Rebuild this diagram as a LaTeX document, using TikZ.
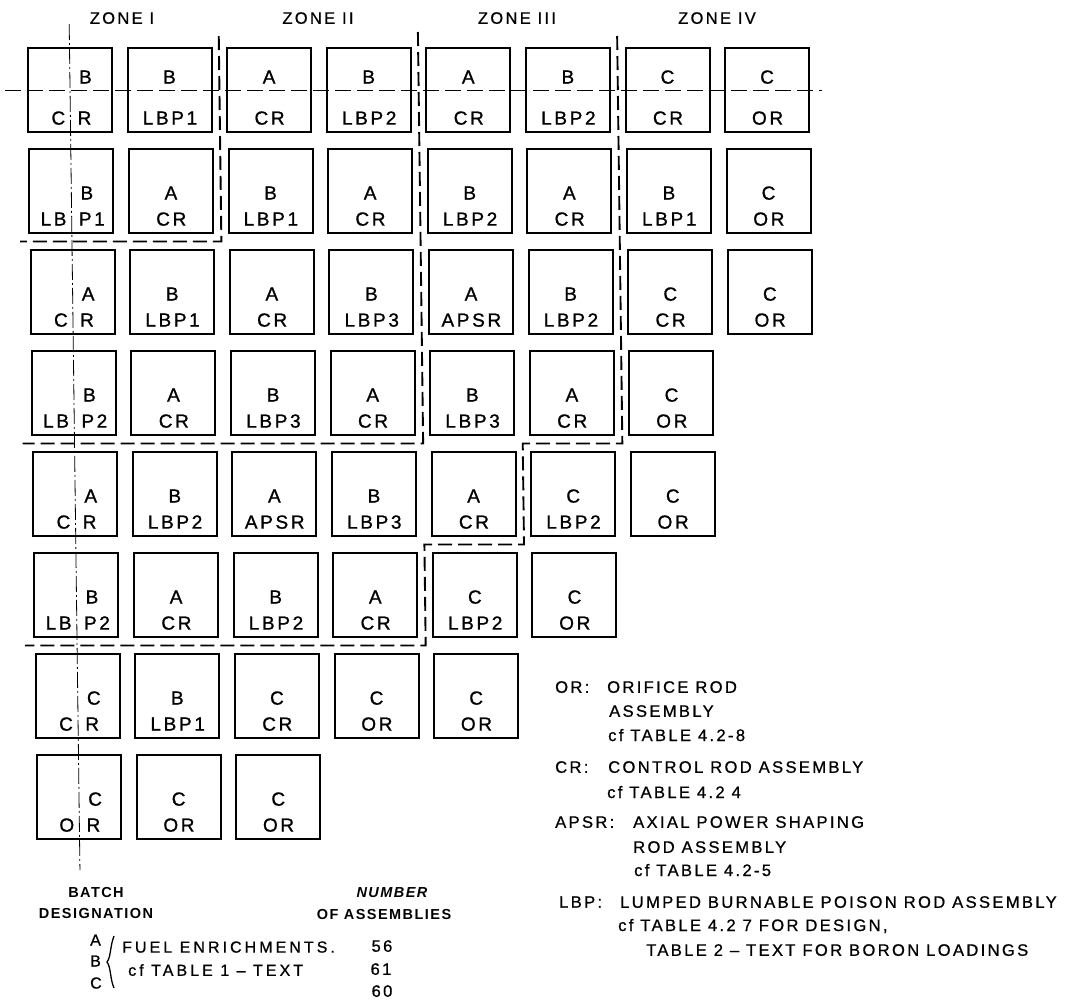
\documentclass[tikz,border=0pt]{standalone}
\usepackage{fontspec}
\setmainfont{Liberation Sans}
\newfontfamily\boxfont{Liberation Sans}[LetterSpace=14,FakeBold=1]
\newfontfamily\legfont{Liberation Sans}[LetterSpace=14,FakeBold=0.8]
\newfontfamily\widefont{Liberation Sans}[LetterSpace=19,FakeBold=0.8]
\newfontfamily\headfont{Liberation Sans}[LetterSpace=10]
\usetikzlibrary{calc}

\tikzset{
  fuelbox/.style={draw,line width=2pt,minimum width=84pt,minimum height=84pt,inner sep=0pt},
  boxtext/.style={inner sep=0pt,text depth=0pt,font=\boxfont\fontsize{19}{19}\selectfont},
  zonelabel/.style={inner sep=0pt,text depth=0pt,font=\legfont\fontsize{16.5}{16.5}\selectfont},
  zoneline/.style={line width=1.9pt,dash pattern=on 14pt off 6pt},
  axisline/.style={line width=0.8pt,dash pattern=on 16pt off 3pt on 2pt off 3pt},
  legtext/.style={anchor=west,inner sep=0pt,text depth=0pt,font=\legfont\fontsize{16.6}{16.6}\selectfont},
  batchtext/.style={anchor=west,inner sep=0pt,text depth=0pt,font=\widefont\fontsize{16}{16}\selectfont},
  headtext/.style={inner sep=0pt,text depth=0pt,font=\headfont\bfseries\fontsize{14.5}{14.5}\selectfont}
}

\begin{document}
\begin{tikzpicture}[x=1pt,y=-1pt]
  \useasboundingbox (0,0) rectangle (1066,1002);
  % zone headings
  \node[zonelabel] (zone1) at (122,18) {ZONE I};
  \node[zonelabel] (zone2) at (318,18) {ZONE II};
  \node[zonelabel] (zone3) at (517,18) {ZONE III};
  \node[zonelabel] (zone4) at (717,18) {ZONE IV};

  % the scan leans a little: lower rows sit further right
  \begin{scope}[xslant=-0.0127]
    % first column, split by the vertical axis
    \foreach \r/\t/\bl/\br in {0/B/C/R,1/B/LB/P1,2/A/C/R,3/B/LB/P2,
                               4/A/C/R,5/B/LB/P2,6/C/C/R,7/C/O/R}{
      \pgfmathsetmacro\cy{90+101*\r}
      \ifnum\r=0 \def\dt{13}\else\def\dt{-2}\fi
      \node[fuelbox] (b\r0) at (68.9,\cy) {};
      \node[boxtext,anchor=west] (t\r0) at ([xshift=9pt,yshift=\dt pt]b\r0.center) {\t};
      \node[boxtext,anchor=east] (l\r0) at ([xshift=-5pt,yshift=-28pt]b\r0.center) {\bl};
      \node[boxtext,anchor=west] (r\r0) at ([xshift=7pt,yshift=-28pt]b\r0.center) {\br};
    }
    % remaining assemblies: row/column/batch/insert
    \foreach \r/\c/\t/\b in {
        0/1/B/LBP1,0/2/A/CR,0/3/B/LBP2,0/4/A/CR,0/5/B/LBP2,0/6/C/CR,0/7/C/OR,
        1/1/A/CR,1/2/B/LBP1,1/3/A/CR,1/4/B/LBP2,1/5/A/CR,1/6/B/LBP1,1/7/C/OR,
        2/1/B/LBP1,2/2/A/CR,2/3/B/LBP3,2/4/A/APSR,2/5/B/LBP2,2/6/C/CR,2/7/C/OR,
        3/1/A/CR,3/2/B/LBP3,3/3/A/CR,3/4/B/LBP3,3/5/A/CR,3/6/C/OR,
        4/1/B/LBP2,4/2/A/APSR,4/3/B/LBP3,4/4/A/CR,4/5/C/LBP2,4/6/C/OR,
        5/1/A/CR,5/2/B/LBP2,5/3/A/CR,5/4/C/LBP2,5/5/C/OR,
        6/1/B/LBP1,6/2/C/CR,6/3/C/OR,6/4/C/OR,
        7/1/C/OR,7/2/C/OR}{
      \pgfmathsetmacro\cx{68.9+99.6*\c}
      \pgfmathsetmacro\cy{90+101*\r}
      \ifnum\r=0 \def\dt{13}\else\def\dt{-2}\fi
      \node[fuelbox] (b\r\c) at (\cx,\cy) {};
      \node[boxtext] (t\r\c) at ([yshift=\dt pt]b\r\c.center) {\t};
      \node[boxtext] (u\r\c) at ([yshift=-28pt]b\r\c.center) {\b};
    }
    % zone boundaries
    \draw[zoneline] (218.3,36) -- (218.3,241.5) -- (17,241.5);
    \draw[zoneline] (417.5,32) -- (417.5,443.5) -- (17,443.5);
    \draw[zoneline] (616.7,36) -- (616.7,443.5) -- (517.1,443.5) -- (517.1,544.5)
      -- (417.5,544.5) -- (417.5,645.5) -- (17,645.5);
    % symmetry axes
    \draw[axisline] (68.9,24) -- (68.9,870);
    \draw[line width=1pt,dash pattern=on 16pt off 6pt] (4,90) -- (821,90);
  \end{scope}

  % legend
  \node[legtext] (orkey)  at (555,687) {OR:};
  \node[legtext] (ortx1)  at (607,687) {ORIFICE ROD};
  \node[legtext] (ortx2)  at (609,711) {ASSEMBLY};
  \node[legtext] (ortx3)  at (608,735) {cf TABLE 4.2-8};
  \node[legtext] (crkey)  at (555,767) {CR:};
  \node[legtext] (crtx1)  at (608,767) {CONTROL ROD ASSEMBLY};
  \node[legtext] (crtx2)  at (607,792) {cf TABLE 4.2 4};
  \node[legtext] (apkey)  at (555,822) {APSR:};
  \node[legtext] (aptx1)  at (633,822) {AXIAL POWER SHAPING};
  \node[legtext] (aptx2)  at (633,847) {ROD ASSEMBLY};
  \node[legtext] (aptx3)  at (634,870) {cf TABLE 4.2-5};
  \node[legtext] (lbkey)  at (559,902) {LBP:};
  \node[legtext] (lbtx1)  at (620,902) {LUMPED BURNABLE POISON ROD ASSEMBLY};
  \node[legtext] (lbtx2)  at (618,925) {cf TABLE 4.2 7 FOR DESIGN,};
  \node[legtext] (lbtx3)  at (646,950) {TABLE 2 – TEXT FOR BORON LOADINGS};

  % batches
  \node[headtext] (batch) at (96,892) {BATCH};
  \node[headtext] (desig) at (96,913) {DESIGNATION};
  \node[headtext,font=\headfont\bfseries\itshape\fontsize{14.5}{14.5}\selectfont] (numhd) at (392,892) {NUMBER};
  \node[headtext] (numof) at (384,914) {OF ASSEMBLIES};
  \node[batchtext] (bA) at (90,940) {A};
  \node[batchtext] (bB) at (90,961) {B};
  \node[batchtext] (bC) at (90,983) {C};
  \draw[line width=1.3pt] (114,936) .. controls (110,946) and (111,957) .. (107,962)
    .. controls (111,967) and (110,979) .. (114,988);
  \node[batchtext] (fuel)  at (122,947) {FUEL ENRICHMENTS.};
  \node[batchtext] (cftab) at (128,970) {cf TABLE 1 – TEXT};
  \node[legtext,anchor=center] (nA) at (382,946) {56};
  \node[legtext,anchor=center] (nB) at (381,969) {61};
  \node[legtext,anchor=center] (nC) at (382,991) {60};
\end{tikzpicture}
\end{document}
